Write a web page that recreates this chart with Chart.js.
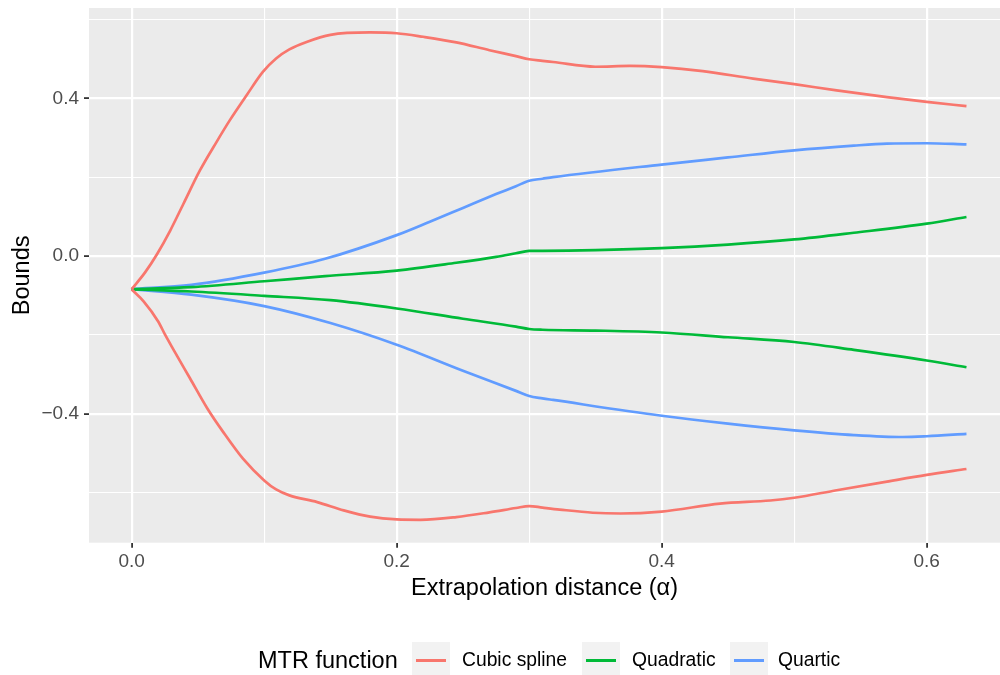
<!DOCTYPE html>
<html>
<head>
<meta charset="utf-8">
<script src="https://cdn.jsdelivr.net/npm/chart.js@4/dist/chart.umd.min.js"></script>
<style>
  html, body { margin: 0; padding: 0; background: #ffffff; }
  #wrap { position: relative; width: 1000px; height: 675px; overflow: hidden; font-family: "Liberation Sans", Arial, Helvetica, sans-serif; }
  #c { position: absolute; left: 0; top: 0; }
  .lg { position: absolute; white-space: nowrap; line-height: 30px; color: #000; }
  .key { position: absolute; width: 38px; height: 37px; background: #f2f2f2; }
  .key span { position: absolute; left: 4px; right: 4px; top: 17px; height: 2.7px; }
</style>
</head>
<body>
<div id="wrap">
  <canvas id="c" width="1000" height="675"></canvas>
  <div class="lg" style="left:258px; top:645px; font-size:23.5px;">MTR function</div>
  <div class="key" style="left:412px; top:642px;"><span style="background:#F8766D"></span></div>
  <div class="lg" style="left:462px; top:645px; font-size:19.3px;">Cubic spline</div>
  <div class="key" style="left:582px; top:642px;"><span style="background:#00BA38"></span></div>
  <div class="lg" style="left:632px; top:645px; font-size:19.3px;">Quadratic</div>
  <div class="key" style="left:730px; top:642px;"><span style="background:#619CFF"></span></div>
  <div class="lg" style="left:778px; top:645px; font-size:19.3px;">Quartic</div>
</div>
<script>
// ---- data ----
const seriesNames = ["Cubic spline", "Quadratic", "Quartic"];
const seriesColors = ["#F8766D", "#00BA38", "#619CFF"];

const cubicUpperX = [0, 0.010, 0.019, 0.029, 0.039, 0.0515, 0.064, 0.074, 0.087, 0.099, 0.109, 0.119, 0.132, 0.150, 0.180, 0.200, 0.220, 0.245, 0.270, 0.290, 0.300, 0.310, 0.318, 0.350, 0.376, 0.400, 0.431, 0.469, 0.500, 0.532, 0.570, 0.600, 0.630];
const cubicUpperY = [-0.084, -0.042, 0.004, 0.064, 0.132, 0.217, 0.289, 0.344, 0.409, 0.467, 0.501, 0.524, 0.543, 0.561, 0.567, 0.565, 0.556, 0.542, 0.522, 0.507, 0.499, 0.495, 0.492, 0.480, 0.482, 0.479, 0.469, 0.450, 0.436, 0.420, 0.403, 0.391, 0.380];

const cubicLowerX = [0, 0.009, 0.020, 0.025, 0.031, 0.044, 0.057, 0.069, 0.084, 0.100, 0.109, 0.119, 0.140, 0.160, 0.180, 0.200, 0.218, 0.245, 0.270, 0.290, 0.300, 0.310, 0.323, 0.348, 0.369, 0.400, 0.444, 0.482, 0.500, 0.532, 0.570, 0.600, 0.630];
const cubicLowerY = [-0.085, -0.115, -0.166, -0.198, -0.234, -0.310, -0.386, -0.446, -0.514, -0.569, -0.592, -0.607, -0.624, -0.645, -0.661, -0.668, -0.669, -0.662, -0.650, -0.639, -0.634, -0.638, -0.643, -0.651, -0.653, -0.648, -0.628, -0.620, -0.613, -0.594, -0.572, -0.555, -0.540];

const quadUpperX = [0, 0.045, 0.100, 0.146, 0.200, 0.245, 0.275, 0.290, 0.300, 0.310, 0.350, 0.400, 0.450, 0.500, 0.545, 0.600, 0.630];
const quadUpperY = [-0.084, -0.079, -0.064, -0.051, -0.037, -0.017, -0.002, 0.007, 0.013, 0.0133, 0.015, 0.020, 0.029, 0.042, 0.059, 0.082, 0.099];

const quadLowerX = [0, 0.045, 0.100, 0.150, 0.200, 0.250, 0.290, 0.300, 0.310, 0.350, 0.400, 0.450, 0.500, 0.545, 0.600, 0.630];
const quadLowerY = [-0.084, -0.090, -0.101, -0.112, -0.133, -0.159, -0.179, -0.185, -0.187, -0.189, -0.194, -0.206, -0.218, -0.238, -0.265, -0.282];

const quartUpperX = [0, 0.045, 0.100, 0.146, 0.200, 0.225, 0.250, 0.275, 0.290, 0.300, 0.310, 0.318, 0.400, 0.450, 0.500, 0.545, 0.570, 0.600, 0.630];
const quartUpperY = [-0.084, -0.073, -0.042, -0.007, 0.053, 0.087, 0.122, 0.157, 0.177, 0.191, 0.196, 0.200, 0.232, 0.250, 0.268, 0.280, 0.285, 0.286, 0.283];

const quartLowerX = [0, 0.045, 0.100, 0.150, 0.200, 0.250, 0.290, 0.300, 0.310, 0.318, 0.400, 0.450, 0.500, 0.545, 0.582, 0.600, 0.630];
const quartLowerY = [-0.084, -0.098, -0.127, -0.170, -0.225, -0.291, -0.342, -0.355, -0.361, -0.365, -0.405, -0.425, -0.442, -0.454, -0.459, -0.457, -0.451];

const xMajorTicks = [0.0, 0.2, 0.4, 0.6];
const yMajorTicks = [-0.4, 0.0, 0.4];
const xTitle = "Extrapolation distance (\u03B1)";
const yTitle = "Bounds";

// ---- build chart ----
function pts(xs, ys) { return xs.map((x, i) => ({ x: x, y: ys[i] })); }
function ds(label, xs, ys, color) {
  return {
    label: label, data: pts(xs, ys), borderColor: color, backgroundColor: color,
    borderWidth: 2.7, pointRadius: 0, fill: false, cubicInterpolationMode: 'monotone'
  };
}
const datasets = [
  ds(seriesNames[0] + " upper", cubicUpperX, cubicUpperY, seriesColors[0]),
  ds(seriesNames[0] + " lower", cubicLowerX, cubicLowerY, seriesColors[0]),
  ds(seriesNames[1] + " upper", quadUpperX, quadUpperY, seriesColors[1]),
  ds(seriesNames[1] + " lower", quadLowerX, quadLowerY, seriesColors[1]),
  ds(seriesNames[2] + " upper", quartUpperX, quartUpperY, seriesColors[2]),
  ds(seriesNames[2] + " lower", quartLowerX, quartLowerY, seriesColors[2])
];

function isMajor(v, list) { return list.some(m => Math.abs(m - v) < 1e-6); }
function fmt(v) { const s = (Math.abs(v) < 1e-9 ? 0 : v).toFixed(1); return s.replace('-', '\u2212'); }

const panelBg = {
  id: 'panelBg',
  beforeDraw(chart) {
    const a = chart.chartArea, ctx = chart.ctx;
    ctx.save(); ctx.fillStyle = '#ebebeb';
    ctx.fillRect(a.left, a.top, a.right - a.left, a.bottom - a.top);
    ctx.restore();
  }
};

const FONT = '"Liberation Sans", Arial, Helvetica, sans-serif';

new Chart(document.getElementById('c'), {
  type: 'line',
  data: { datasets: datasets },
  plugins: [panelBg],
  options: {
    responsive: false, animation: false, devicePixelRatio: 1,
    layout: { padding: { left: 0, right: 0, top: 8, bottom: 70.3 } },
    plugins: { legend: { display: false }, tooltip: { enabled: false } },
    scales: {
      x: {
        type: 'linear', min: -0.0322, max: 0.6553,
        afterFit(s) { s.height = 62; s.paddingLeft = 0; s.paddingRight = 0; },
        border: { display: false },
        grid: {
          color: '#ffffff',
          lineWidth: c => isMajor(c.tick.value, xMajorTicks) ? 2.2 : 1.1,
          tickLength: 5, tickWidth: 1.8,
          tickColor: c => isMajor(c.tick.value, xMajorTicks) ? '#333333' : 'rgba(0,0,0,0)'
        },
        ticks: {
          stepSize: 0.1, includeBounds: false, autoSkip: false, maxRotation: 0,
          padding: 3, color: '#4d4d4d', font: { family: FONT, size: 19 },
          callback: v => isMajor(v, xMajorTicks) ? fmt(v) : ''
        },
        title: { display: true, text: xTitle, color: '#000000', font: { family: FONT, size: 23.5 }, padding: { top: 0, bottom: 2 } }
      },
      y: {
        type: 'linear', min: -0.727, max: 0.629,
        afterFit(s) { s.width = 89; s.paddingTop = 0; s.paddingBottom = 0; },
        border: { display: false },
        grid: {
          color: '#ffffff',
          lineWidth: c => isMajor(c.tick.value, yMajorTicks) ? 2.2 : 1.1,
          tickLength: 5, tickWidth: 1.8,
          tickColor: c => isMajor(c.tick.value, yMajorTicks) ? '#333333' : 'rgba(0,0,0,0)'
        },
        ticks: {
          stepSize: 0.2, includeBounds: false, autoSkip: false,
          padding: 5, color: '#4d4d4d', font: { family: FONT, size: 19 },
          callback: v => isMajor(v, yMajorTicks) ? fmt(v) : ''
        },
        title: { display: true, text: yTitle, color: '#000000', font: { family: FONT, size: 23.5 }, padding: { top: 8, bottom: 0 } }
      }
    }
  }
});
</script>
</body>
</html>
